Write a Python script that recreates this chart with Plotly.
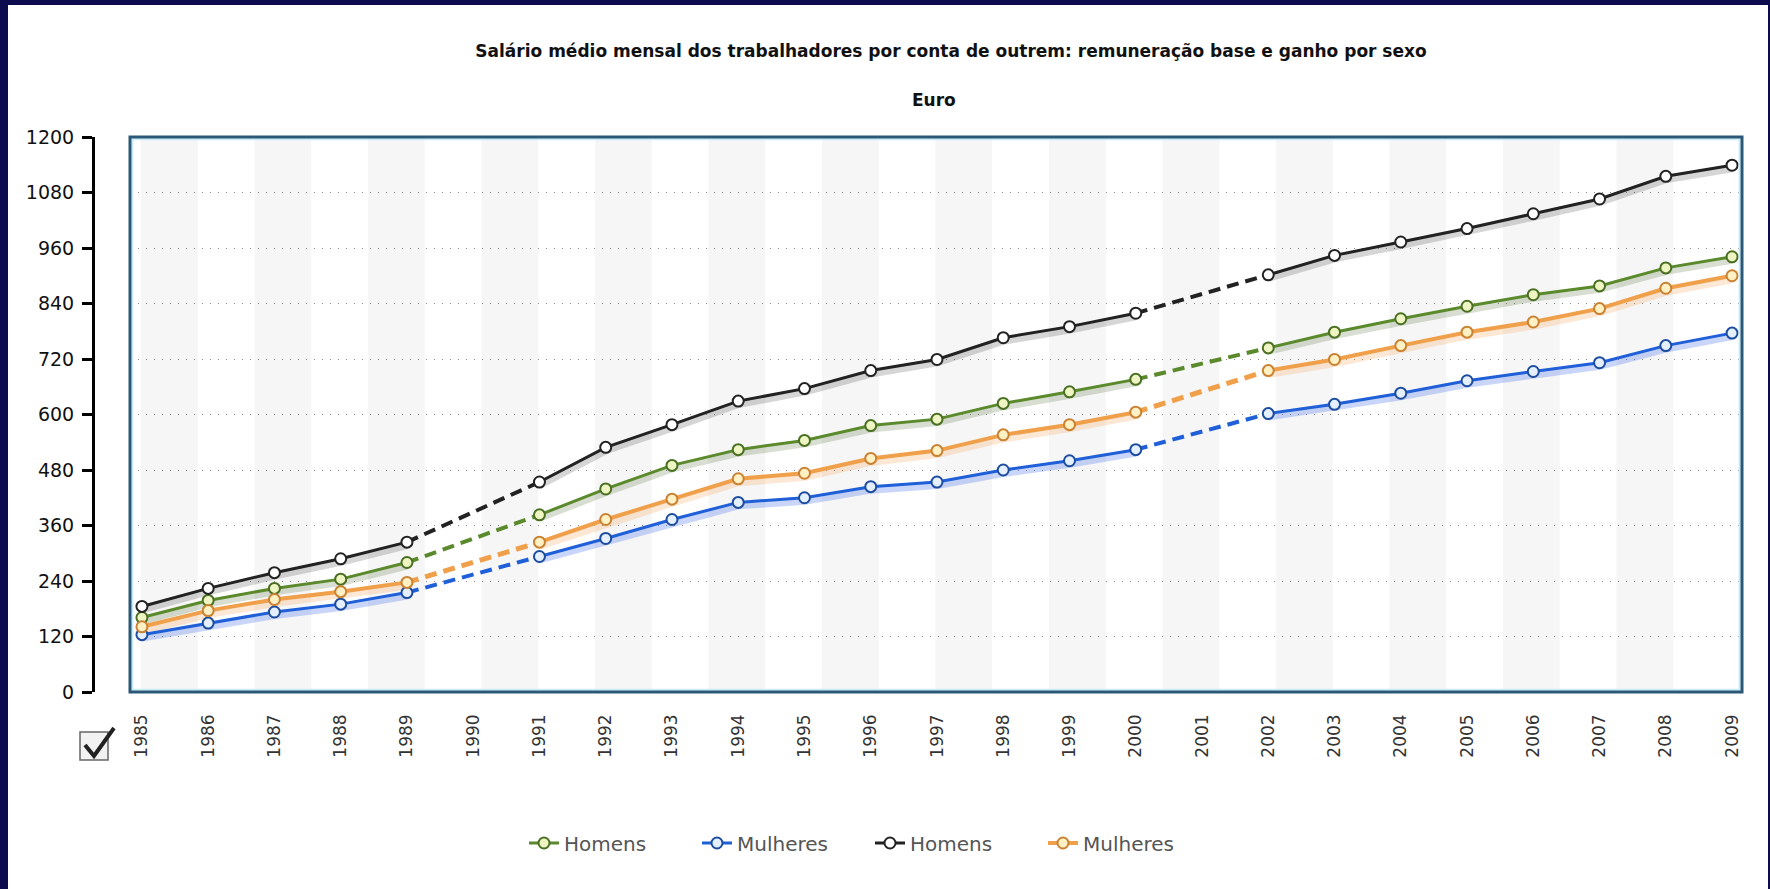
import plotly.graph_objects as go

# ---------------- data ----------------
years = ["1985", "1986", "1987", "1988", "1989", "1990", "1991", "1992", "1993",
         "1994", "1995", "1996", "1997", "1998", "1999", "2000", "2001", "2002",
         "2003", "2004", "2005", "2006", "2007", "2008", "2009"]

# Remuneração base
homens_base = [161, 198, 224, 244, 280, None, 383, 439, 490, 524, 544, 576, 590,
               624, 649, 676, None, 744, 778, 807, 834, 859, 878, 917, 941]
mulheres_base = [124, 149, 173, 190, 215, None, 293, 332, 373, 410, 420, 444, 454,
                 480, 500, 524, None, 602, 622, 646, 673, 693, 712, 749, 776]
# Ganho
homens_ganho = [185, 224, 258, 288, 324, None, 454, 529, 578, 629, 656, 695, 719,
                766, 790, 819, None, 902, 944, 973, 1002, 1034, 1066, 1115, 1139]
mulheres_ganho = [141, 176, 200, 217, 237, None, 324, 373, 417, 461, 473, 505, 522,
                  556, 578, 605, None, 695, 719, 749, 778, 800, 829, 873, 900]

y_ticks = [0, 120, 240, 360, 480, 600, 720, 840, 960, 1080, 1200]

title_text = "Salário médio mensal dos trabalhadores por conta de outrem: remuneração base e ganho por sexo"
subtitle_text = "Euro"

# ---------------- geometry ----------------
W, H = 1770, 889
ML, MR, MT, MB = 93, 28, 137, 197
PW = W - ML - MR
PH = H - MT - MB
BOX_L = 130
BOX_W = (W - MR) - BOX_L


def pxx(px):
    return (px - ML) / PW


def pxy(py):
    return (H - MB - py) / PH


FONT = "DejaVu Sans"

series = [
    # name, values, line colour, marker fill, marker outline, width, shadow
    ("Homens", homens_base, "#5b8a2c", "#eef5c2", "#496f22", 3, "rgba(60,90,30,0.20)"),
    ("Mulheres", mulheres_base, "#1f5fd8", "#e4f0ff", "#1d4c9e", 3, "rgba(40,90,230,0.25)"),
    ("Homens", homens_ganho, "#222222", "#ffffff", "#222222", 3, "rgba(0,0,0,0.16)"),
    ("Mulheres", mulheres_ganho, "#f0a04a", "#fff1c4", "#c98132", 4, "rgba(240,150,60,0.22)"),
]


def gap_segments(vals):
    xs, ys = [], []
    for i, v in enumerate(vals):
        if v is None and 0 < i < len(vals) - 1:
            xs += [years[i - 1], years[i + 1], None]
            ys += [vals[i - 1], vals[i + 1], None]
    return xs, ys


fig = go.Figure()

# shadows (base axis, shifted by a few pixels)
for name, vals, col, fill, outl, w, sh in series:
    fig.add_trace(go.Scatter(x=years, y=vals, mode="lines", yaxis="y",
                             line=dict(color=sh, width=w + 5),
                             showlegend=False, hoverinfo="skip", connectgaps=False))

# dashed gap segments
for name, vals, col, fill, outl, w, sh in series:
    gx, gy = gap_segments(vals)
    fig.add_trace(go.Scatter(x=gx, y=gy, mode="lines", yaxis="y2",
                             line=dict(color=col, width=w + 1, dash="12px,7px"),
                             showlegend=False, hoverinfo="skip"))

# main series
for name, vals, col, fill, outl, w, sh in series:
    fig.add_trace(go.Scatter(x=years, y=vals, mode="lines+markers", name=name, yaxis="y2",
                             line=dict(color=col, width=w),
                             marker=dict(symbol="circle", size=11, color=fill,
                                         line=dict(color=outl, width=2)),
                             connectgaps=False))

shapes = []
# white panel over the navy frame
shapes.append(dict(type="rect", xref="paper", yref="paper",
                   x0=pxx(8), x1=pxx(1768), y0=pxy(5), y1=pxy(H + 50),
                   fillcolor="white", line=dict(width=0), layer="below"))
# alternating background bands
for k in range(14):
    s = 141 + 113.5 * k
    e = s + 56.75
    shapes.append(dict(type="rect", xref="x domain", yref="y domain",
                       x0=(s - BOX_L) / BOX_W, x1=(e - BOX_L) / BOX_W, y0=0, y1=1,
                       fillcolor="#f6f6f6", line=dict(width=0), layer="below"))
# plot frame
shapes.append(dict(type="rect", xref="x domain", yref="y domain",
                   x0=0.0015, x1=0.9985, y0=0.004, y1=0.996,
                   line=dict(color="#c9ecf7", width=2), layer="above"))
shapes.append(dict(type="rect", xref="x domain", yref="y domain",
                   x0=0, x1=1, y0=0, y1=1,
                   line=dict(color="#2b5876", width=3), layer="above"))
# checkbox icon
shapes.append(dict(type="rect", xref="paper", yref="paper",
                   x0=pxx(80), x1=pxx(108), y0=pxy(760), y1=pxy(732),
                   fillcolor="#f2f2f2", line=dict(color="#666666", width=1.5), layer="above"))
shapes.append(dict(type="path", xref="paper", yref="paper",
                   path="M %f,%f L %f,%f L %f,%f" % (pxx(85), pxy(745), pxx(94), pxy(756),
                                                     pxx(114), pxy(728)),
                   line=dict(color="#222222", width=4), layer="above"))

fig.update_layout(
    width=W, height=H,
    margin=dict(l=ML, r=MR, t=MT, b=MB, pad=0),
    paper_bgcolor="#0c0b4e",
    plot_bgcolor="white",
    showlegend=True,
    font=dict(family=FONT, color="#222"),
    title=dict(text=title_text, x=951 / W, xanchor="center", xref="container",
               y=1 - 51 / H, yanchor="middle", yref="container",
               font=dict(family=FONT, size=17, color="#111", weight="bold")),
    annotations=[dict(text=subtitle_text, xref="paper", yref="paper",
                      x=pxx(934), y=pxy(100), xanchor="center", yanchor="middle",
                      showarrow=False,
                      font=dict(family=FONT, size=17, color="#111", weight="bold"))],
    xaxis=dict(type="category", categoryorder="array", categoryarray=years,
               domain=[pxx(BOX_L), 1], range=[-0.18, 24.15], anchor="y",
               showgrid=False, zeroline=False, showline=False, ticks="",
               tickangle=-90, ticklabelstandoff=18,
               tickfont=dict(family=FONT, size=17, color="#333")),
    yaxis=dict(range=[6.5, 1206.5], visible=False, fixedrange=True),
    yaxis2=dict(range=[0, 1200], overlaying="y", anchor="free", position=0, side="left",
                tickvals=y_ticks, ticks="outside", ticklen=10, tickwidth=3,
                tickcolor="black", showline=True, linecolor="black", linewidth=3,
                showgrid=True, gridcolor="#8a8a8a", gridwidth=1, griddash="1px,7px",
                zeroline=False, ticklabelstandoff=4,
                tickfont=dict(family=FONT, size=19, color="#111")),
    legend=dict(orientation="h", xref="container", yref="container",
                x=870 / W, xanchor="center", y=1 - 843 / H, yanchor="middle",
                font=dict(family=FONT, size=20, color="#555"),
                bgcolor="rgba(0,0,0,0)", itemwidth=30, entrywidth=128),
    shapes=shapes,
)

fig.write_html("out.html", config={"displayModeBar": False},
               post_script="document.body.style.margin='0';document.body.style.overflow='hidden';")
